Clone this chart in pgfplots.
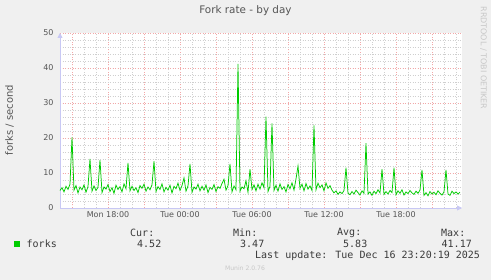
\documentclass[border=0pt]{standalone}
\usepackage{pgfplots}
\pgfplotsset{compat=1.18}
\usepackage{fontspec}
\setmainfont{DejaVu Sans}
\newfontfamily\monofont{DejaVu Sans Mono}
\usetikzlibrary{arrows.meta}
\definecolor{bgc}{HTML}{F0F0F0}
\definecolor{forkgreen}{HTML}{00CC00}
\definecolor{txtgray}{HTML}{555555}
\definecolor{legtxt}{HTML}{3A3A3A}
\definecolor{axisblue}{HTML}{C8C8F4}
\definecolor{majgrid}{HTML}{F2A8A8}
\definecolor{mingrid}{HTML}{CFCFCF}
\definecolor{faint}{HTML}{C8C8C8}
\begin{document}
\begin{tikzpicture}[x=1pt,y=1pt]
\fill[bgc] (0,0) rectangle (491,280);
\begin{axis}[
  at={(60pt,72pt)}, anchor=south west,
  scale only axis, width=402pt, height=175pt,
  xmin=0, xmax=201, ymin=0, ymax=50,
  axis background/.style={fill=white},
  axis lines=left,
  axis line style={color=axisblue, line width=0.8pt, -{Triangle[length=5pt,width=5pt]}},
  xtick={6,24,...,186},
  xticklabels={,Mon 18:00,,Tue 00:00,,Tue 06:00,,Tue 12:00,,Tue 18:00,},
  minor xtick={0,6,...,198},
  ytick={0,10,...,50},
  minor ytick={2,4,...,48},
  major tick length=0pt, minor tick length=0pt,
  grid=both,
  major grid style={color=majgrid, line width=0.5pt, dash pattern=on 1pt off 1.5pt},
  minor grid style={color=mingrid, line width=0.5pt, dash pattern=on 1pt off 1.5pt},
  tick label style={font=\fontsize{8}{9}\selectfont, text=txtgray},
  yticklabel style={xshift=-3pt},
  /pgf/number format/assume math mode=true,
  clip=false,
]
\addplot[color=forkgreen, line width=0.75pt, mark=none] table[x=x, y=y] {
x y
0 5.0
1 5.8
2 4.6
3 6.2
4 5.3
5 6.8
6 20.2
7 5.1
8 6.4
9 4.3
10 6.0
11 5.2
12 6.6
13 4.5
14 6.1
15 14.0
16 4.8
17 6.3
18 5.0
19 5.9
20 13.7
21 4.4
22 6.0
23 5.4
24 6.7
25 4.7
26 5.8
27 4.2
28 6.5
29 5.3
30 6.1
31 4.6
32 6.9
33 5.5
34 12.9
35 4.9
36 6.2
37 5.0
38 5.8
39 4.4
40 6.4
41 5.6
42 6.8
43 4.8
44 6.0
45 5.2
46 6.6
47 13.4
48 4.7
49 6.1
50 5.3
51 6.9
52 4.6
53 5.9
54 5.1
55 6.5
56 4.3
57 6.2
58 5.5
59 7.1
60 5.0
61 6.4
62 8.6
63 4.8
64 6.3
65 12.6
66 4.5
67 6.0
68 5.4
69 6.8
70 4.9
71 6.2
72 5.1
73 6.6
74 4.4
75 5.9
76 5.3
77 6.7
78 4.7
79 6.1
80 5.6
81 7.0
82 8.2
83 5.1
84 6.4
85 12.6
86 4.6
87 6.3
88 5.2
89 41.2
90 4.8
91 6.0
92 5.5
93 7.8
94 4.5
95 11.1
96 5.3
97 6.6
98 4.9
99 6.8
100 5.4
101 7.2
102 5.8
103 26.1
104 4.7
105 6.2
106 24.2
107 5.0
108 6.5
109 4.8
110 6.9
111 5.3
112 6.1
113 4.6
114 6.7
115 5.5
116 7.2
117 5.1
118 8.3
119 12.0
120 5.6
121 6.8
122 4.9
123 7.0
124 5.4
125 6.3
126 5.0
127 23.6
128 5.2
129 7.1
130 5.8
131 6.6
132 4.9
133 7.2
134 5.6
135 6.4
136 5.1
137 4.3
138 4.9
139 3.9
140 4.6
141 4.1
142 5.0
143 11.5
144 4.2
145 3.8
146 4.7
147 4.0
148 5.1
149 4.4
150 3.7
151 4.9
152 4.2
153 18.5
154 4.0
155 4.6
156 3.6
157 4.8
158 4.1
159 5.2
160 4.3
161 11.1
162 3.9
163 4.7
164 4.0
165 5.0
166 4.4
167 11.5
168 3.8
169 4.9
170 4.2
171 5.2
172 3.7
173 4.6
174 4.1
175 5.0
176 4.3
177 3.9
178 4.8
179 4.2
180 5.1
181 10.9
182 3.6
183 4.4
184 3.5
185 4.7
186 4.0
187 4.5
188 3.8
189 4.9
190 4.2
191 3.7
192 4.6
193 10.9
194 4.0
195 3.6
196 4.8
197 4.1
198 4.6
199 4.0
200 4.5
};
\end{axis}
% titles and labels
\node[font=\fontsize{10.4}{12}\selectfont, text=txtgray] at (245.5,269) {Fork rate - by day};
\node[rotate=90, font=\fontsize{10}{12}\selectfont, text=txtgray] at (9.5,160) {forks / second};
\node[rotate=-90, font=\fontsize{8}{9}\selectfont, text=faint] at (483.5,222) {RRDTOOL / TOBI OETIKER};
% legend
\fill[forkgreen] (14,33) rectangle (20,39);
\begin{scope}[every node/.style={anchor=west, inner sep=0pt, font=\monofont\fontsize{10}{12}\selectfont, text=legtxt}]
\node at (130,47) {Cur:};
\node at (233,47) {Min:};
\node at (337,47) {Avg:};
\node at (441,47) {Max:};
\node at (26.5,36) {forks};
\node at (137,36) {4.52};
\node at (240,36) {3.47};
\node at (343,36) {5.83};
\node at (441.5,36) {41.17};
\node at (255,24) {Last update: Tue Dec 16 23:20:19 2025};
\end{scope}
\node[font=\fontsize{6.1}{7}\selectfont, text=faint] at (245,12) {Munin 2.0.76};
\end{tikzpicture}
\end{document}
